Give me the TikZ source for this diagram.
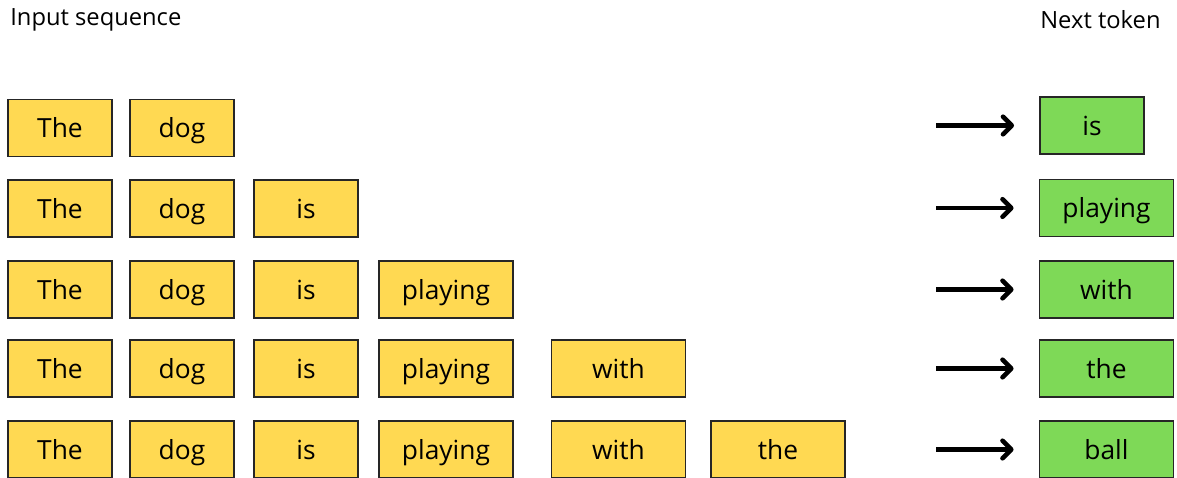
\documentclass[tikz,border=0pt]{standalone}
\usepackage{fontspec}
\setmainfont{Open Sans}
\usetikzlibrary{arrows.meta}
\definecolor{geel}{HTML}{FFD952}
\definecolor{groen}{HTML}{7ED957}
\tikzset{
  woord/.style={draw=black!85, line width=1.1pt, fill=geel, inner sep=0pt,
    minimum height=1.14cm, text height=2.1ex, text depth=0ex,
    font=\fontsize{15}{18}\selectfont},
  doel/.style={woord, fill=groen},
  kort/.style={minimum width=2.08cm},
  lang/.style={minimum width=2.68cm},
  kop/.style={anchor=west, inner sep=0pt, font=\fontsize{13.5}{16}\selectfont},
  pijl/.style={line width=2.6pt, shorten >=0.5cm,
    -{Straight Barb[length=5pt, width=10pt, round]}}
}
\begin{document}
\begin{tikzpicture}[x=0.02cm, y=-0.02cm]
\useasboundingbox (0,0) rectangle (1177,477);
% Koppen
\node[kop] (invoer) at (10,20) {Input sequence};
\node[kop] (volgend) at (1040,20) {Next token};
% Invoerreeksen
\foreach \y [count=\r] in {128,208.5,289.5,368.5,449.5} {
  \foreach \w/\x/\s [count=\c] in {The/60/kort, dog/182/kort, is/306/kort,
      playing/446/lang, with/618.5/lang, the/778/lang} {
    \ifnum\c>\numexpr\r+1\relax\else
      \node[woord,\s] (r\r c\c) at (\x,\y) {\w};
    \fi
  }
}
% Volgende token met pijl
\foreach \w/\x/\y/\s [count=\r] in {is/1092/125.5/kort, playing/1106.5/208/lang,
    with/1106.5/289.5/lang, the/1106.5/368.5/lang, ball/1106.5/449.5/lang} {
  \node[doel,\s] (n\r) at (\x,\y) {\w};
  \coordinate (p\r) at (936,\y);
  \draw[pijl] (p\r) -- (n\r);
}
\end{tikzpicture}
\end{document}
